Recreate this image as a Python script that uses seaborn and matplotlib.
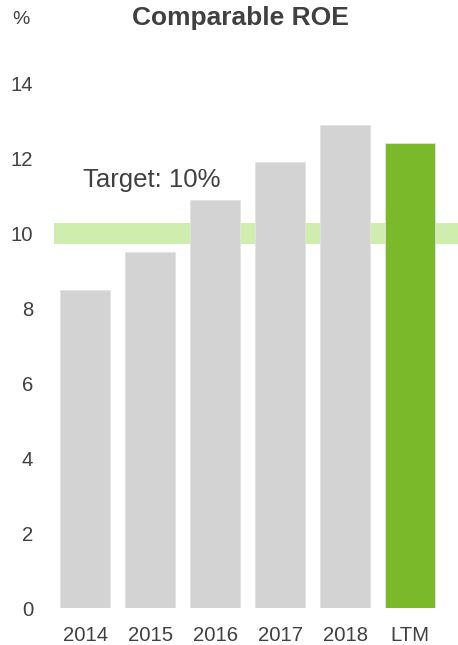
import matplotlib
matplotlib.use("Agg")
import matplotlib.pyplot as plt
import seaborn as sns
import pandas as pd

# Comparable return on equity by year, with the last-twelve-months figure
periods = ["2014", "2015", "2016", "2017", "2018", "LTM"]
roe = [8.5, 9.5, 10.9, 11.9, 12.9, 12.4]
bar_colors = ["#D3D3D3", "#D3D3D3", "#D3D3D3", "#D3D3D3", "#D3D3D3", "#7AB929"]
target = 10.0
y_ticks = [0, 2, 4, 6, 8, 10, 12, 14]

sns.set_theme(style="white")
plt.rcParams["font.family"] = ["Liberation Sans", "DejaVu Sans"]

text_color = "#404040"
df = pd.DataFrame({"period": periods, "roe": roe})

fig = plt.figure(figsize=(4.58, 6.45), dpi=100)
ax = fig.add_axes([0.1179, 0.0569, 0.8821, 0.8140])

# Target band sits behind the bars
ax.axhspan(target - 0.28, target + 0.28, color="#D0EDB0", zorder=0, lw=0)

sns.barplot(data=df, x="period", y="roe", hue="period", palette=bar_colors,
            legend=False, width=0.77, saturation=1, ax=ax, zorder=2,
            edgecolor="#E2E2E2", linewidth=0.6)

ax.set_xlim(-0.4815, 5.734)
ax.set_ylim(0, 14)
ax.set_yticks(y_ticks)
ax.set_yticklabels([str(t) for t in y_ticks])
ax.set_xlabel("")
ax.set_ylabel("")
for s in ax.spines.values():
    s.set_visible(False)
ax.tick_params(axis="both", length=0, colors=text_color, labelsize=14.6)
ax.tick_params(axis="y", pad=15)
ax.tick_params(axis="x", pad=12.5)

ax.text(1.03, 11.42, f"Target: {target:.0f}%", ha="center", va="center",
        fontsize=18.5, color=text_color, zorder=3)

fig.text(240.5 / 458, 1 - 18 / 645, "Comparable ROE", ha="center", va="center",
         fontsize=19, fontweight="bold", color=text_color)
fig.text(21 / 458, 1 - 20 / 645, "%", ha="center", va="center",
         fontsize=14, color=text_color)

fig.savefig("out.png", dpi=100, facecolor="white")
